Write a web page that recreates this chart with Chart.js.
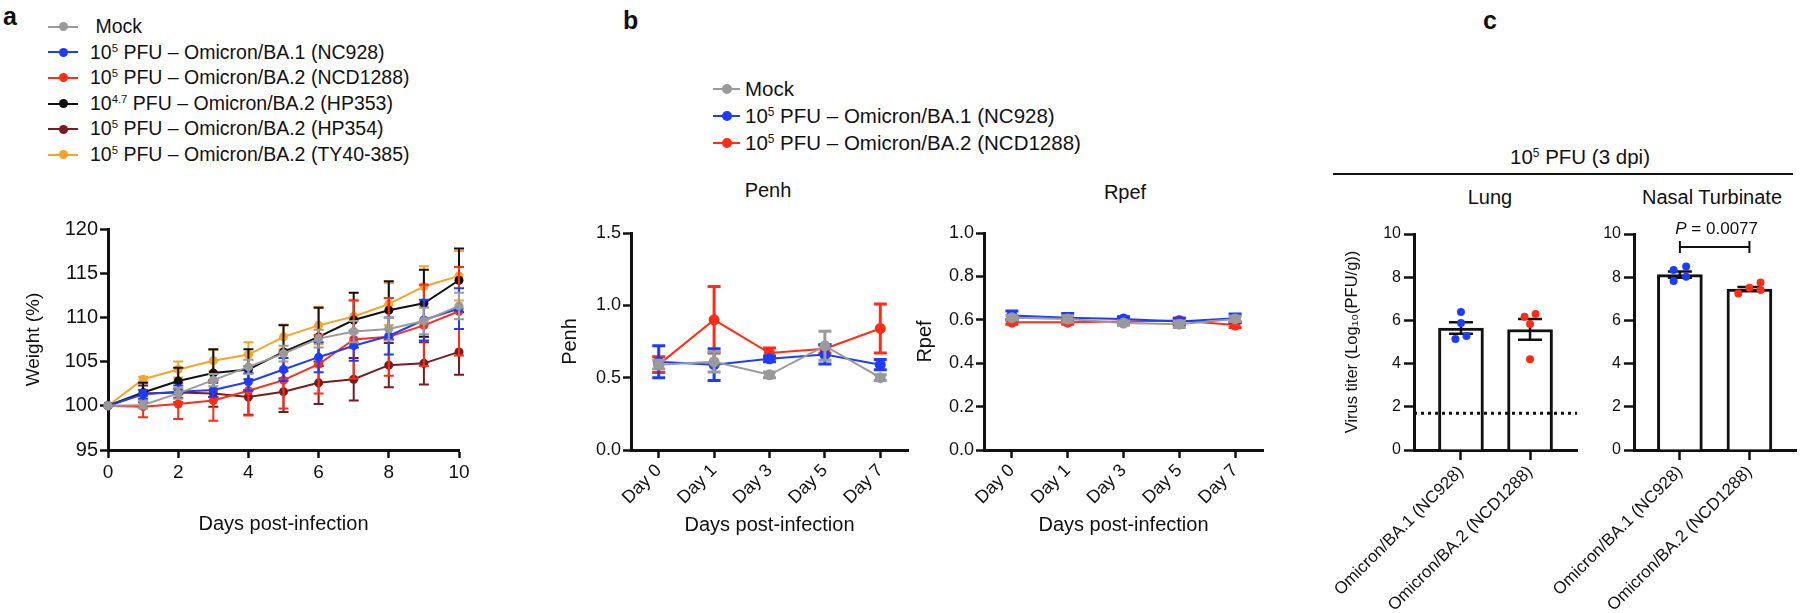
<!DOCTYPE html>
<html>
<head>
<meta charset="utf-8">
<script src="https://cdn.jsdelivr.net/npm/chart.js@4.4.1/dist/chart.umd.min.js"></script>
<style>
body{margin:0;width:1800px;height:613px;background:#fff;position:relative;overflow:hidden;font-family:"Liberation Sans",Arial,Helvetica,sans-serif;color:#111}
canvas{position:absolute}
.t{position:absolute;white-space:nowrap}
.letter{position:absolute;font-weight:bold;font-size:25px}
.leg{position:absolute}
.leg .row{position:relative;white-space:nowrap}
.leg .ln{position:absolute;left:0;height:2px}
.leg .dot{position:absolute;border-radius:50%}
sup{font-size:0.58em;vertical-align:0.62em;line-height:0}
.hline{position:absolute;height:2px;background:#111}
</style>
</head>
<body>
<div class="letter" style="left:3px;top:2px">a</div>
<div class="letter" style="left:623px;top:6px">b</div>
<div class="letter" style="left:1483px;top:6px">c</div>

<div class="leg" id="legA" style="left:48px;top:14px;font-size:19.5px"></div>
<div class="leg" id="legB" style="left:713px;top:75px;font-size:20.5px"></div>

<div class="t" style="left:768px;top:190px;transform:translate(-50%,-50%);font-size:20px">Penh</div>
<div class="t" style="left:1125px;top:192px;transform:translate(-50%,-50%);font-size:20px">Rpef</div>

<div class="t" style="left:1580px;top:157px;transform:translate(-50%,-50%);font-size:20.5px">10<sup>5</sup> PFU (3 dpi)</div>
<div class="hline" style="left:1333px;top:173px;width:460px"></div>
<div class="t" style="left:1490px;top:197px;transform:translate(-50%,-50%);font-size:20px">Lung</div>
<div class="t" style="left:1712px;top:197px;transform:translate(-50%,-50%);font-size:20px">Nasal Turbinate</div>

<canvas id="cA" width="480" height="345" style="left:0;top:200px"></canvas>
<canvas id="cPenh" width="370" height="345" style="left:550px;top:200px"></canvas>
<canvas id="cRpef" width="370" height="345" style="left:910px;top:200px"></canvas>
<canvas id="cLung" width="295" height="413" style="left:1290px;top:200px"></canvas>
<canvas id="cNasal" width="300" height="413" style="left:1500px;top:200px"></canvas>

<script>
// ---- panel a: body weight ----
const daysA = [0, 1, 2, 3, 4, 5, 6, 7, 8, 9, 10];
const namesA = [
  '&nbsp;Mock',
  '10<sup>5</sup> PFU – Omicron/BA.1 (NC928)',
  '10<sup>5</sup> PFU – Omicron/BA.2 (NCD1288)',
  '10<sup>4.7</sup> PFU – Omicron/BA.2 (HP353)',
  '10<sup>5</sup> PFU – Omicron/BA.2 (HP354)',
  '10<sup>5</sup> PFU – Omicron/BA.2 (TY40-385)'
];
const weightMock  = [100, 100.1, 101.4, 102.9, 104.4, 105.9, 107.6, 108.4, 108.7, 109.6, 111.3];
const weightBA1   = [100, 101.3, 101.6, 101.8, 102.7, 104.1, 105.5, 106.8, 107.9, 109.7, 111.0];
const weightBA2   = [100, 99.9, 100.2, 100.6, 101.7, 102.9, 104.7, 107.5, 107.8, 109.1, 110.7];
const weightHP353 = [100, 101.5, 102.8, 103.7, 104.1, 106.1, 107.8, 109.7, 110.8, 111.6, 114.2];
const weightHP354 = [100, 101.4, 101.5, 101.4, 101.0, 101.6, 102.6, 103.0, 104.6, 104.8, 106.1];
const weightTY40  = [100, 103.0, 104.1, 105.1, 105.8, 107.8, 109.1, 110.1, 111.5, 113.5, 114.7];
const errMock  = [0, 0.4, 0.6, 0.7, 0.8, 0.9, 1.0, 1.2, 1.3, 1.5, 1.5];
const errBA1   = [0, 0.5, 0.7, 0.8, 1.0, 1.3, 1.7, 1.7, 2.1, 2.3, 2.3];
const errBA2   = [0, 1.2, 1.7, 2.3, 2.8, 3.2, 3.3, 4.4, 4.4, 4.6, 5.0];
const errHP353 = [0, 1.1, 1.5, 2.7, 2.3, 3.0, 3.3, 3.1, 3.3, 3.8, 3.6];
const errHP354 = [0, 0.9, 1.1, 1.5, 2.0, 2.3, 2.4, 2.4, 2.5, 2.4, 2.6];
const errTY40  = [0, 0.3, 0.9, 1.2, 1.4, 1.4, 2.1, 1.9, 2.4, 2.3, 2.8];

// ---- panel b: plethysmography ----
const dayLabels = ['Day 0', 'Day 1', 'Day 3', 'Day 5', 'Day 7'];
const namesB = [
  'Mock',
  '10<sup>5</sup> PFU – Omicron/BA.1 (NC928)',
  '10<sup>5</sup> PFU – Omicron/BA.2 (NCD1288)'
];
const penhMock = [0.59, 0.61, 0.52, 0.72, 0.50];
const penhBA1  = [0.61, 0.59, 0.63, 0.66, 0.59];
const penhBA2  = [0.59, 0.90, 0.67, 0.70, 0.84];
const penhErrMock = [0.03, 0.07, 0.02, 0.10, 0.02];
const penhErrBA1  = [0.11, 0.11, 0.02, 0.065, 0.035];
const penhErrBA2  = [0.055, 0.23, 0.035, 0.03, 0.17];
const rpefMock = [0.61, 0.604, 0.585, 0.58, 0.604];
const rpefBA1  = [0.62, 0.609, 0.604, 0.592, 0.607];
const rpefBA2  = [0.589, 0.589, 0.592, 0.597, 0.576];
const rpefErrMock = [0.01, 0.015, 0.01, 0.015, 0.012];
const rpefErrBA1  = [0.02, 0.02, 0.01, 0.015, 0.02];
const rpefErrBA2  = [0.01, 0.01, 0.01, 0.01, 0.012];

// ---- panel c: virus titres ----
const groupsC = ['Omicron/BA.1 (NC928)', 'Omicron/BA.2 (NCD1288)'];
const lungMean = [5.65, 5.58];
const lungSem  = [0.27, 0.48];
const lungPtsBA1 = [6.39, 5.88, 5.14, 5.28];
const lungPtsBA2 = [6.17, 6.30, 5.83, 4.20];
const nasalMean = [8.12, 7.45];
const nasalSem  = [0.14, 0.1];
const nasalPtsBA1 = [8.33, 8.49, 7.82, 8.02];
const nasalPtsBA2 = [7.25, 7.51, 7.75, 7.41];
const detectionLimit = 1.7;
const nasalP = '0.0077';

// styling
const INK = '#111';
const GRAY = '#9a9a9a', BLUE = '#1e3cff', RED = '#ff2d16', BLACK = '#111', DARKRED = '#7a1c1f', ORANGE = '#f7a326';
const colorsA = [GRAY, BLUE, RED, BLACK, DARKRED, ORANGE];
const colorsB = [GRAY, BLUE, RED];
const jitterL1 = [0, 0, -0.08, 0.08], jitterL2 = [-0.08, 0.08, 0, 0];
const jitterN1 = [-0.09, 0.09, -0.09, 0.09], jitterN2 = [-0.16, 0, 0.16, 0.16];

Chart.defaults.font.family = '"Liberation Sans", Arial, Helvetica, sans-serif';
Chart.defaults.color = INK;

// error bars drawn with the chart's own y scale
const errorBars = {
  id: 'errorBars',
  draw(chart, args) {
    const ds = chart.data.datasets[args.index];
    if (!ds.errors) return;
    const y = chart.scales.y, ctx = chart.ctx;
    const cap = ds.capWidth || 10;
    ctx.save();
    ctx.strokeStyle = ds.errColor || ds.borderColor;
    ctx.lineWidth = ds.errWidth || 2;
    args.meta.data.forEach((el, i) => {
      const e = ds.errors[i];
      if (!e) return;
      const d = ds.data[i];
      const v = typeof d === 'number' ? d : d.y;
      const top = y.getPixelForValue(v + e), bot = y.getPixelForValue(v - e);
      ctx.beginPath();
      ctx.moveTo(el.x, top); ctx.lineTo(el.x, bot);
      ctx.moveTo(el.x - cap / 2, top); ctx.lineTo(el.x + cap / 2, top);
      ctx.moveTo(el.x - cap / 2, bot); ctx.lineTo(el.x + cap / 2, bot);
      ctx.stroke();
    });
    ctx.restore();
  },
  beforeDatasetDraw(chart, args) { if (!chart.data.datasets[args.index].errAfter) this.draw(chart, args); },
  afterDatasetDraw(chart, args) { if (chart.data.datasets[args.index].errAfter) this.draw(chart, args); }
};
Chart.register(errorBars);

const sigBracket = {
  id: 'sigBracket',
  afterDatasetsDraw(chart, args, opts) {
    const {x, y} = chart.scales, ctx = chart.ctx;
    const x0 = x.getPixelForValue(opts.from), x1 = x.getPixelForValue(opts.to);
    const yy = y.getPixelForValue(opts.y);
    ctx.save();
    ctx.strokeStyle = INK; ctx.lineWidth = 2;
    ctx.beginPath();
    ctx.moveTo(x0, yy); ctx.lineTo(x1, yy);
    ctx.moveTo(x0, yy - 6); ctx.lineTo(x0, yy + 6);
    ctx.moveTo(x1, yy - 6); ctx.lineTo(x1, yy + 6);
    ctx.stroke();
    const fam = Chart.defaults.font.family;
    const a = 'P', b = ' = ' + opts.text;
    ctx.font = 'italic 17px ' + fam; const wa = ctx.measureText(a).width;
    ctx.font = '17px ' + fam; const wb = ctx.measureText(b).width;
    const cx = (x0 + x1) / 2 + 2, ty = y.getPixelForValue(opts.textY);
    ctx.fillStyle = INK; ctx.textBaseline = 'middle'; ctx.textAlign = 'left';
    ctx.font = 'italic 17px ' + fam; ctx.fillText(a, cx - (wa + wb) / 2, ty);
    ctx.font = '17px ' + fam; ctx.fillText(b, cx - (wa + wb) / 2 + wa, ty);
    ctx.restore();
  }
};

function axisBase(extra) {
  const o = {
    border: {display: true, color: INK, width: 3},
    grid: {drawOnChartArea: false, drawTicks: true, tickLength: 8, tickWidth: 2.5, tickColor: INK}
  };
  return Object.assign(o, extra);
}

function baseOptions(padding, scales, plugins) {
  return {
    responsive: false,
    animation: false,
    layout: {padding},
    plugins: Object.assign({legend: {display: false}, tooltip: {enabled: false}}, plugins || {}),
    scales
  };
}

function legend(id, names, colors, rowH, lineW, textX, dotR) {
  const el = document.getElementById(id);
  names.forEach((n, i) => {
    const r = document.createElement('div');
    r.className = 'row';
    r.style.height = rowH + 'px';
    r.style.lineHeight = rowH + 'px';
    r.style.paddingLeft = textX + 'px';
    r.innerHTML = '<span class="ln" style="top:' + (rowH / 2 - 1) + 'px;width:' + lineW + 'px;background:' + colors[i] + '"></span>' +
      '<span class="dot" style="left:' + (lineW / 2 - dotR) + 'px;top:' + (rowH / 2 - dotR) + 'px;width:' + (2 * dotR) + 'px;height:' + (2 * dotR) + 'px;background:' + colors[i] + '"></span>' + n;
    el.appendChild(r);
  });
}
legend('legA', namesA, colorsA, 25.6, 30, 42, 4.5);
legend('legB', namesB, colorsB, 27, 27, 32, 5);

// ---- panel a chart ----
const weightsA = [weightMock, weightBA1, weightBA2, weightHP353, weightHP354, weightTY40];
const errsA = [errMock, errBA1, errBA2, errHP353, errHP354, errTY40];
new Chart(document.getElementById('cA'), {
  type: 'line',
  data: {
    datasets: weightsA.map((w, k) => ({
      data: w.map((v, i) => ({x: daysA[i], y: v})),
      errors: errsA[k],
      borderColor: colorsA[k], backgroundColor: colorsA[k],
      borderWidth: 2, pointRadius: 4.5, pointBorderWidth: 0, tension: 0,
      capWidth: 10, errWidth: 2, clip: false
    }))
  },
  options: baseOptions({left: 0, right: 21, top: 29, bottom: 0}, {
    x: axisBase({
      type: 'linear', min: 0, max: 10,
      ticks: {stepSize: 2, font: {size: 19}, color: INK, padding: 3, maxRotation: 0},
      title: {display: true, text: 'Days post-infection', font: {size: 20}, color: INK, padding: {top: 0, bottom: 9}},
      afterFit: s => { s.height = 95; }
    }),
    y: axisBase({
      type: 'linear', min: 95, max: 120,
      ticks: {stepSize: 5, font: {size: 20}, color: INK, padding: 2},
      title: {display: true, text: 'Weight (%)', font: {size: 19}, color: INK, padding: {top: 22, bottom: 0}},
      afterFit: s => { s.width = 108; }
    })
  })
});

// ---- panel b charts ----
function plethChart(id, series, errs, yMax, yStep, title, yWidth, titlePad, padRight) {
  new Chart(document.getElementById(id), {
    type: 'line',
    data: {
      labels: dayLabels,
      datasets: series.map((s, k) => ({
        data: s, errors: errs[k],
        borderColor: colorsB[k], backgroundColor: colorsB[k],
        borderWidth: 2, pointRadius: 5.5, pointBorderWidth: 0, tension: 0,
        capWidth: 13, errWidth: 3, clip: false
      }))
    },
    options: baseOptions({left: 0, right: padRight, top: 33, bottom: 0}, {
      x: axisBase({
        type: 'category', offset: true,
        grid: {drawOnChartArea: false, drawTicks: true, tickLength: 8, tickWidth: 2.5, tickColor: INK, offset: false},
        ticks: {autoSkip: false, minRotation: 45, maxRotation: 45, font: {size: 18}, color: INK, padding: 2},
        title: {display: true, text: 'Days post-infection', font: {size: 20}, color: INK, padding: {top: 0, bottom: 8}},
        afterFit: s => { s.height = 95; }
      }),
      y: axisBase({
        type: 'linear', min: 0, max: yMax,
        ticks: {stepSize: yStep, font: {size: 18}, color: INK, padding: 2, callback: v => v.toFixed(1)},
        title: {display: true, text: title, font: {size: 20}, color: INK, padding: {top: titlePad, bottom: 0}},
        afterFit: s => { s.width = yWidth; }
      })
    })
  });
}
plethChart('cPenh', [penhMock, penhBA1, penhBA2], [penhErrMock, penhErrBA1, penhErrBA2], 1.5, 0.5, 'Penh', 81, 8, 12);
plethChart('cRpef', [rpefMock, rpefBA1, rpefBA2], [rpefErrMock, rpefErrBA1, rpefErrBA2], 1.0, 0.2, 'Rpef', 74, 3, 17);

// ---- panel c charts ----
function titreChart(id, means, sems, pts1, pts2, j1, j2, xMin, xMax, yWidth, yTitle, padRight, extra, plugins) {
  const datasets = [
    {type: 'scatter', data: pts1.map((v, k) => ({x: j1[k], y: v})), backgroundColor: BLUE, pointRadius: 4, pointBorderWidth: 0, order: 1, clip: false},
    {type: 'scatter', data: pts2.map((v, k) => ({x: 1 + j2[k], y: v})), backgroundColor: RED, pointRadius: 4, pointBorderWidth: 0, order: 1, clip: false},
    {type: 'bar', data: means.map((v, i) => ({x: i, y: v})), errors: sems, errAfter: true,
      backgroundColor: '#fff', borderColor: INK, borderWidth: 3, barThickness: 45,
      errColor: INK, errWidth: 2.5, capWidth: 24, order: 3}
  ];
  if (extra) datasets.unshift(extra);
  new Chart(document.getElementById(id), {
    type: 'bar',
    data: {datasets},
    options: baseOptions({left: 0, right: padRight, top: 34, bottom: 0}, {
      x: axisBase({
        type: 'linear', min: xMin, max: xMax, offset: false,
        grid: {drawOnChartArea: false, drawTicks: true, tickLength: 10, tickWidth: 2.5, tickColor: INK, offset: false},
        afterBuildTicks: s => { s.ticks = groupsC.map((g, i) => ({value: i})); },
        ticks: {autoSkip: false, minRotation: 45, maxRotation: 45, font: {size: 17}, color: INK, padding: 2,
          callback: v => groupsC[v]},
        afterFit: s => { s.height = 163; }
      }),
      y: axisBase({
        type: 'linear', min: 0, max: 10,
        grid: {drawOnChartArea: false, drawTicks: true, tickLength: 10, tickWidth: 2.5, tickColor: INK},
        ticks: {stepSize: 2, font: {size: 16}, color: INK, padding: 3},
        title: {display: !!yTitle, text: yTitle, font: {size: 16.5}, color: INK, padding: {top: 53, bottom: 0}},
        afterFit: s => { s.width = yWidth; }
      })
    }, plugins || {}),
    plugins: plugins ? [sigBracket] : []
  });
}
titreChart('cLung', lungMean, lungSem, lungPtsBA1, lungPtsBA2, jitterL1, jitterL2, -0.68, 1.68, 124,
  'Virus titer (Log₁₀(PFU/g))', 8,
  {type: 'line', data: [{x: -0.68, y: detectionLimit}, {x: 1.68, y: detectionLimit}],
    borderColor: INK, borderWidth: 3, borderDash: [3, 4], pointRadius: 0, order: 0, clip: false});
titreChart('cNasal', nasalMean, nasalSem, nasalPtsBA1, nasalPtsBA2, jitterN1, jitterN2, -0.66, 1.67, 134,
  '', 3, null, {sigBracket: {from: 0, to: 1, y: 9.4, textY: 10.2, text: nasalP}});
</script>
</body>
</html>
